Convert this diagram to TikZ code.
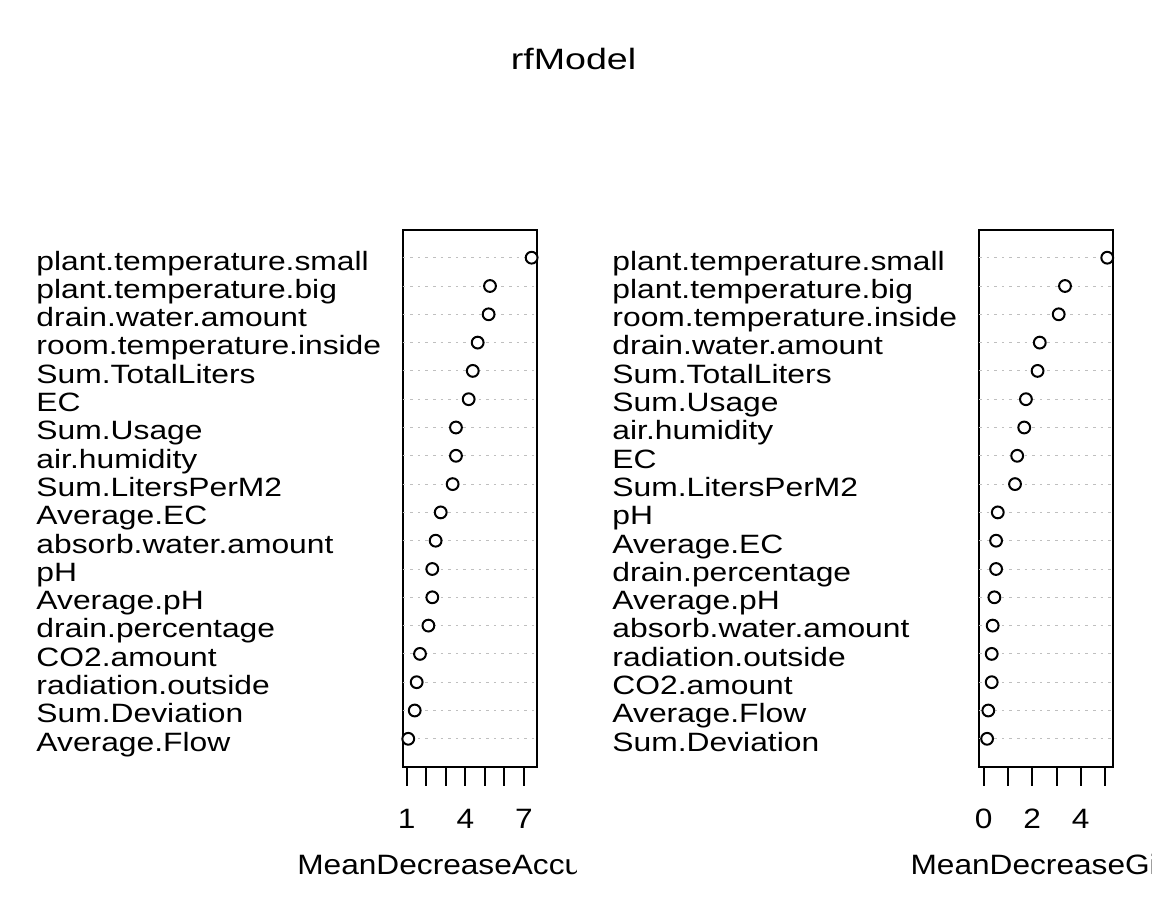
\documentclass[tikz,border=0pt]{standalone}
\usepackage{fontspec}
\setmainfont{Liberation Sans}
\usepackage{tikz}
\usetikzlibrary{positioning}

\tikzset{
  varlabel/.style={anchor=base west, transform shape, xscale=1.2, inner sep=0pt, font=\fontsize{13.25}{15}\selectfont},
  ticklabel/.style={anchor=base, transform shape, xscale=1.13, inner sep=0pt, font=\fontsize{14}{16}\selectfont},
  titletext/.style={anchor=base, transform shape, xscale=1.28, inner sep=0pt, font=\fontsize{14.7}{17}\selectfont},
  gridline/.style={gray!50, line width=0.5pt, dash pattern=on 1.3pt off 2.5pt},
  impdot/.style={circle, draw, line width=1pt, fill=white, minimum size=5.9pt, inner sep=0pt},
  panelbox/.style={line width=1pt},
}

\begin{document}
\begin{tikzpicture}[x=0.5pt, y=-0.5pt]
  \useasboundingbox (0,0) rectangle (1152,921);

  % title
  \node[titletext] (title) at (573.5,69.3) {rfModel};

  % variable names
  \foreach \name [count=\i] in {plant.temperature.small, plant.temperature.big, drain.water.amount, room.temperature.inside, Sum.TotalLiters, EC, Sum.Usage, air.humidity, Sum.LitersPerM2, Average.EC, absorb.water.amount, pH, Average.pH, drain.percentage, CO2.amount, radiation.outside, Sum.Deviation, Average.Flow}
    \node[varlabel] (la\i) at (36,241.7+28.3*\i) {\name};
  \foreach \name [count=\i] in {plant.temperature.small, plant.temperature.big, room.temperature.inside, drain.water.amount, Sum.TotalLiters, Sum.Usage, air.humidity, EC, Sum.LitersPerM2, pH, Average.EC, drain.percentage, Average.pH, absorb.water.amount, radiation.outside, CO2.amount, Average.Flow, Sum.Deviation}
    \node[varlabel] (lg\i) at (612,241.7+28.3*\i) {\name};

  % MeanDecreaseAccuracy panel
  \begin{scope}[xshift=193.575pt, x=9.775pt]
    \draw[panelbox] (0.795,230) rectangle (7.65,767);
    \foreach \v [count=\i] in {7.39,5.26,5.19,4.63,4.38,4.17,3.52,3.52,3.35,2.74,2.48,2.31,2.31,2.11,1.68,1.51,1.41,1.08} {
      \draw[gridline] (0.795,229.4+28.3*\i) -- (7.65,229.4+28.3*\i);
      \node[impdot] (da\i) at (\v,229.4+28.3*\i) {};
    }
    \foreach \t in {1,...,7}
      \draw[panelbox] (\t,767) -- (\t,786);
    \foreach \t in {1,4,7}
      \node[ticklabel] (ta\t) at (\t,828.3) {\t};
  \end{scope}
  \begin{scope}
    \clip (0,0) rectangle (576,921);
    \node[ticklabel] (xa) at (469.7,874) {MeanDecreaseAccuracy};
  \end{scope}

  % MeanDecreaseGini panel
  \begin{scope}[xshift=491.85pt, x=12.135pt]
    \draw[panelbox] (-0.194,230) rectangle (5.33,767);
    \foreach \v [count=\i] in {5.09,3.35,3.09,2.31,2.22,1.74,1.67,1.38,1.29,0.58,0.51,0.51,0.44,0.37,0.33,0.33,0.19,0.14} {
      \draw[gridline] (-0.194,229.4+28.3*\i) -- (5.33,229.4+28.3*\i);
      \node[impdot] (dg\i) at (\v,229.4+28.3*\i) {};
    }
    \foreach \t in {0,...,5}
      \draw[panelbox] (\t,767) -- (\t,786);
    \foreach \t in {0,2,4}
      \node[ticklabel] (tg\t) at (\t,828.3) {\t};
  \end{scope}
  \node[ticklabel] (xg) at (1046,874) {MeanDecreaseGini};
\end{tikzpicture}
\end{document}
